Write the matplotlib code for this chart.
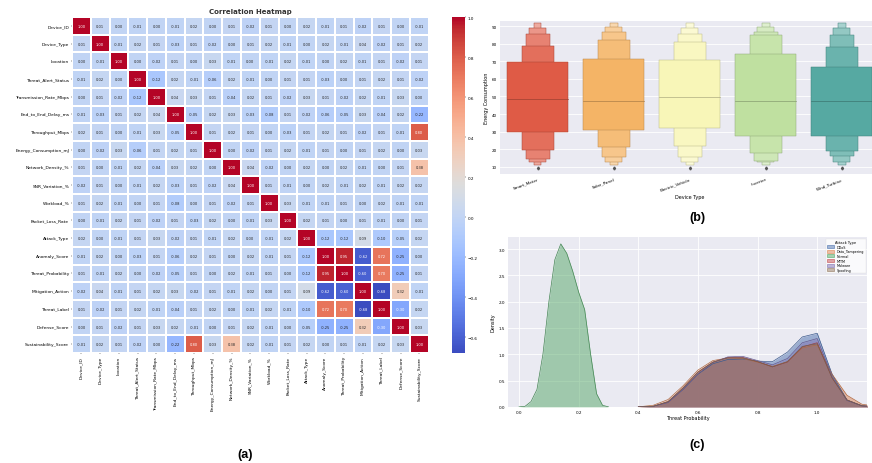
import numpy as np
import matplotlib
matplotlib.use("Agg")
import matplotlib.pyplot as plt
from matplotlib.patches import Patch
import seaborn as sns

# ---- (a) correlation heatmap data ----
features = ["Device_ID", "Device_Type", "Location", "Threat_Alert_Status",
            "Transmission_Rate_Mbps", "End_to_End_Delay_ms", "Throughput_Mbps",
            "Energy_Consumption_mJ", "Network_Density_%", "SNR_Variation_%",
            "Workload_%", "Packet_Loss_Rate", "Attack_Type", "Anomaly_Score",
            "Threat_Probability", "Mitigation_Action", "Threat_Label",
            "Defense_Score", "Sustainability_Score"]

# lower triangle of the matrix, row by row
corr_lower = [
    [1.00],
    [0.01, 1.00],
    [0.00, -0.01, 1.00],
    [-0.01, 0.02, 0.00, 1.00],
    [0.00, 0.01, -0.02, -0.12, 1.00],
    [-0.01, -0.03, 0.01, 0.02, 0.04, 1.00],
    [0.02, 0.01, 0.00, -0.01, 0.03, -0.05, 1.00],
    [0.00, -0.02, 0.03, -0.06, 0.01, 0.02, 0.01, 1.00],
    [0.01, 0.00, -0.01, 0.02, -0.04, 0.03, 0.02, 0.00, 1.00],
    [-0.02, 0.01, 0.00, -0.01, 0.02, -0.03, 0.01, -0.02, 0.04, 1.00],
    [0.01, 0.02, -0.01, 0.00, 0.01, -0.08, 0.00, 0.01, -0.02, 0.01, 1.00],
    [0.00, -0.01, 0.02, 0.01, -0.02, 0.01, -0.03, 0.02, 0.00, -0.01, 0.03, 1.00],
    [0.02, 0.00, -0.01, 0.01, 0.03, -0.02, 0.01, -0.01, 0.02, 0.00, -0.01, 0.02, 1.00],
    [-0.01, 0.02, 0.00, -0.03, 0.01, -0.06, 0.02, 0.01, 0.00, 0.02, -0.01, 0.01, -0.12, 1.00],
    [0.01, -0.01, 0.02, 0.00, -0.02, -0.05, 0.01, 0.00, 0.02, -0.01, 0.01, 0.00, -0.12, 0.95, 1.00],
    [-0.02, 0.04, -0.01, 0.01, 0.02, 0.03, -0.02, 0.01, -0.01, 0.02, 0.00, 0.01, 0.09, -0.62, -0.60, 1.00],
    [0.01, -0.02, 0.01, 0.02, -0.01, -0.04, 0.01, 0.02, 0.00, -0.01, 0.02, -0.01, -0.10, 0.72, 0.70, -0.68, 1.00],
    [0.00, 0.01, -0.02, 0.01, 0.03, 0.02, -0.01, 0.00, 0.01, 0.02, -0.01, 0.00, -0.05, -0.25, -0.25, 0.32, -0.30, 1.00],
    [-0.01, 0.02, 0.01, -0.02, 0.00, -0.22, 0.80, 0.03, 0.38, 0.02, -0.01, 0.01, 0.02, 0.00, 0.01, -0.01, 0.02, 0.03, 1.00],
]

# ---- (b) boxen plot data (level bounds) ----
device_types = ["Smart_Meter", "Solar_Panel", "Electric_Vehicle", "Inverter", "Wind_Turbine"]
box_colors = ["#df5b46", "#f4b466", "#f8f6b8", "#bfe0a0", "#56a9a2"]
level_widths = [0.8, 0.42, 0.32, 0.22, 0.1]
level_top = [[69.5, 78.9, 85.6, 89.0, 91.5],
             [71.4, 81.9, 86.5, 89.5, 91.5],
             [70.5, 80.9, 85.6, 89.0, 91.5],
             [74.2, 84.7, 86.5, 89.5, 91.5],
             [66.7, 78.0, 84.7, 89.0, 91.5]]
level_bottom = [[29.7, 19.4, 14.5, 12.5, 11.0],
                [31.0, 21.2, 15.5, 13.0, 11.0],
                [32.0, 22.1, 15.5, 13.0, 11.0],
                [27.8, 18.0, 13.6, 12.5, 11.0],
                [27.8, 19.3, 16.4, 12.6, 11.0]]
medians = [48.6, 47.7, 49.6, 47.7, 47.7]

# ---- (c) KDE curves ----
attack_names = ["DDoS", "Data_Tampering", "Normal", "MITM", "Malware", "Spoofing"]
attack_colors = ["#4C72B0", "#DD8452", "#55A868", "#C44E52", "#8172B3", "#937860"]
x_normal = [0.00, 0.02, 0.04, 0.06, 0.08, 0.10, 0.12, 0.14, 0.16, 0.18,
            0.20, 0.22, 0.24, 0.26, 0.28, 0.30]
dens_normal = [0.0, 0.01, 0.10, 0.33, 1.00, 2.00, 2.80, 3.10, 2.92, 2.58,
               2.18, 1.85, 1.00, 0.25, 0.03, 0.0]
x_attack = [0.40, 0.45, 0.50, 0.55, 0.60, 0.65, 0.70, 0.75, 0.80, 0.85,
            0.90, 0.95, 1.00, 1.05, 1.10, 1.15, 1.20]
dens_ddos = [0, 0.01, 0.09, 0.33, 0.62, 0.82, 0.90, 0.91, 0.87, 0.86, 1.04, 1.33, 1.40, 0.62, 0.13, 0.02, 0]
dens_tamper = [0, 0.03, 0.14, 0.40, 0.70, 0.88, 0.93, 0.92, 0.85, 0.77, 0.86, 1.12, 1.18, 0.62, 0.22, 0.05, 0.01]
dens_mitm = [0, 0.01, 0.10, 0.36, 0.66, 0.85, 0.94, 0.94, 0.86, 0.76, 0.85, 1.14, 1.22, 0.55, 0.13, 0.02, 0]
dens_malware = [0, 0.01, 0.08, 0.33, 0.63, 0.84, 0.95, 0.96, 0.88, 0.80, 0.92, 1.22, 1.30, 0.58, 0.12, 0.02, 0]
dens_spoof = [0, 0.01, 0.10, 0.36, 0.66, 0.85, 0.93, 0.93, 0.86, 0.76, 0.86, 1.15, 1.20, 0.55, 0.13, 0.02, 0]

n = len(features)
corr = np.zeros((n, n))
for i, row in enumerate(corr_lower):
    for j, v in enumerate(row):
        corr[i, j] = v
        corr[j, i] = v

fig = plt.figure(figsize=(8.72, 4.64), dpi=100)

# ---------------- (a) ----------------
ax_hm = fig.add_axes([0.0826, 0.237, 0.409, 0.724])
ax_cb = fig.add_axes([0.518, 0.237, 0.015, 0.724])
sns.heatmap(corr, ax=ax_hm, cbar_ax=ax_cb, cmap="coolwarm", annot=True, fmt=".2f",
            annot_kws={"fontsize": 2.6}, linewidths=0.3, linecolor="white",
            xticklabels=features, yticklabels=features)
ax_hm.set_title("Correlation Heatmap", fontsize=5, fontweight="bold", color="#333333", pad=3)
ax_hm.tick_params(labelsize=3.2, length=1, width=0.3, pad=1)
plt.setp(ax_hm.get_xticklabels(), rotation=90)
plt.setp(ax_hm.get_yticklabels(), rotation=0)
ax_cb.tick_params(labelsize=3, length=1, width=0.3, pad=1)
for s in ax_cb.spines.values():
    s.set_visible(False)

# ---------------- (b) ----------------
ax_b = fig.add_axes([0.573, 0.623, 0.436, 0.330])
ax_b.set_facecolor("#eaeaf2")
ax_b.grid(True, axis="y", color="white", lw=0.6)
ax_b.set_axisbelow(True)
for s in ax_b.spines.values():
    s.set_visible(False)


def lighten(c, f):
    rgb = np.array(matplotlib.colors.to_rgb(c))
    return tuple(rgb + (1 - rgb) * f)


def darken(c, f):
    rgb = np.array(matplotlib.colors.to_rgb(c))
    return tuple(rgb * (1 - f))


for k in range(len(device_types)):
    # draw narrow (outer) levels first, main box last
    for lv in range(len(level_widths) - 1, -1, -1):
        ax_b.bar(k, level_top[k][lv] - level_bottom[k][lv], bottom=level_bottom[k][lv],
                 width=level_widths[lv], color=lighten(box_colors[k], 0.12 * lv),
                 edgecolor=darken(box_colors[k], 0.25), linewidth=0.35, zorder=2 + (5 - lv))
    ax_b.plot([k - 0.4, k + 0.4], [medians[k], medians[k]], color=darken(box_colors[k], 0.3),
              lw=0.5, zorder=10)
    ax_b.plot([k], [level_bottom[k][-1] - 1.5], marker="d", ms=1.5, color="#555555", zorder=10)

ax_b.set_xlim(-0.5, len(device_types) - 0.5)
ax_b.set_ylim(6, 93)
ax_b.set_yticks(np.arange(10, 91, 10))
ax_b.set_xticks(range(len(device_types)))
ax_b.set_xticklabels(device_types, rotation=20, ha="right", rotation_mode="anchor")
ax_b.tick_params(labelsize=3, length=0, pad=2)
ax_b.set_xlabel("Device Type", fontsize=3.5, labelpad=2)
ax_b.set_ylabel("Energy Consumption", fontsize=3.5, labelpad=2)

# ---------------- (c) ----------------
ax_c = fig.add_axes([0.5826, 0.121, 0.412, 0.366])
ax_c.set_facecolor("#eaeaf2")
ax_c.grid(True, color="white", lw=0.6)
ax_c.set_axisbelow(True)
for s in ax_c.spines.values():
    s.set_visible(False)

curves = [(x_attack, dens_ddos), (x_attack, dens_tamper), (x_normal, dens_normal),
          (x_attack, dens_mitm), (x_attack, dens_malware), (x_attack, dens_spoof)]
for (xs, ys), col in zip(curves, attack_colors):
    ax_c.fill_between(xs, ys, color=col, alpha=0.5, lw=0, zorder=2)
    ax_c.plot(xs, ys, color=darken(col, 0.2), lw=0.5, zorder=3)

ax_c.set_xlim(-0.037, 1.168)
ax_c.set_ylim(0, 3.23)
ax_c.set_xticks(np.arange(0, 1.01, 0.2))
ax_c.set_xticklabels(["%.1f" % v for v in np.arange(0, 1.01, 0.2)])
ax_c.set_yticks(np.arange(0, 3.01, 0.5))
ax_c.set_yticklabels(["%.1f" % v for v in np.arange(0, 3.01, 0.5)])
ax_c.tick_params(labelsize=3, length=0, pad=2)
ax_c.set_xlabel("Threat Probability", fontsize=3.5, labelpad=1)
ax_c.set_ylabel("Density", fontsize=3.5, labelpad=2)
handles = [Patch(facecolor=matplotlib.colors.to_rgba(c, 0.5), edgecolor=c, lw=0.4)
           for c in attack_colors]
leg = ax_c.legend(handles, attack_names, title="Attack Type", loc="upper right",
                  fontsize=2.4, title_fontsize=2.6, handlelength=2.2, handleheight=1.0,
                  borderpad=0.4, labelspacing=0.2, framealpha=0.8, edgecolor="#dddddd")
leg.get_frame().set_linewidth(0.3)

# panel letters
fig.text(245 / 872, 1 - 455 / 464, "(a)", fontsize=9, fontweight="bold",
         ha="center", va="center", family="Liberation Sans")
fig.text(697 / 872, 1 - 218 / 464, "(b)", fontsize=9, fontweight="bold",
         ha="center", va="center", family="Liberation Sans")
fig.text(697 / 872, 1 - 445 / 464, "(c)", fontsize=9, fontweight="bold",
         ha="center", va="center", family="Liberation Sans")

fig.savefig("out.png", dpi=100)
